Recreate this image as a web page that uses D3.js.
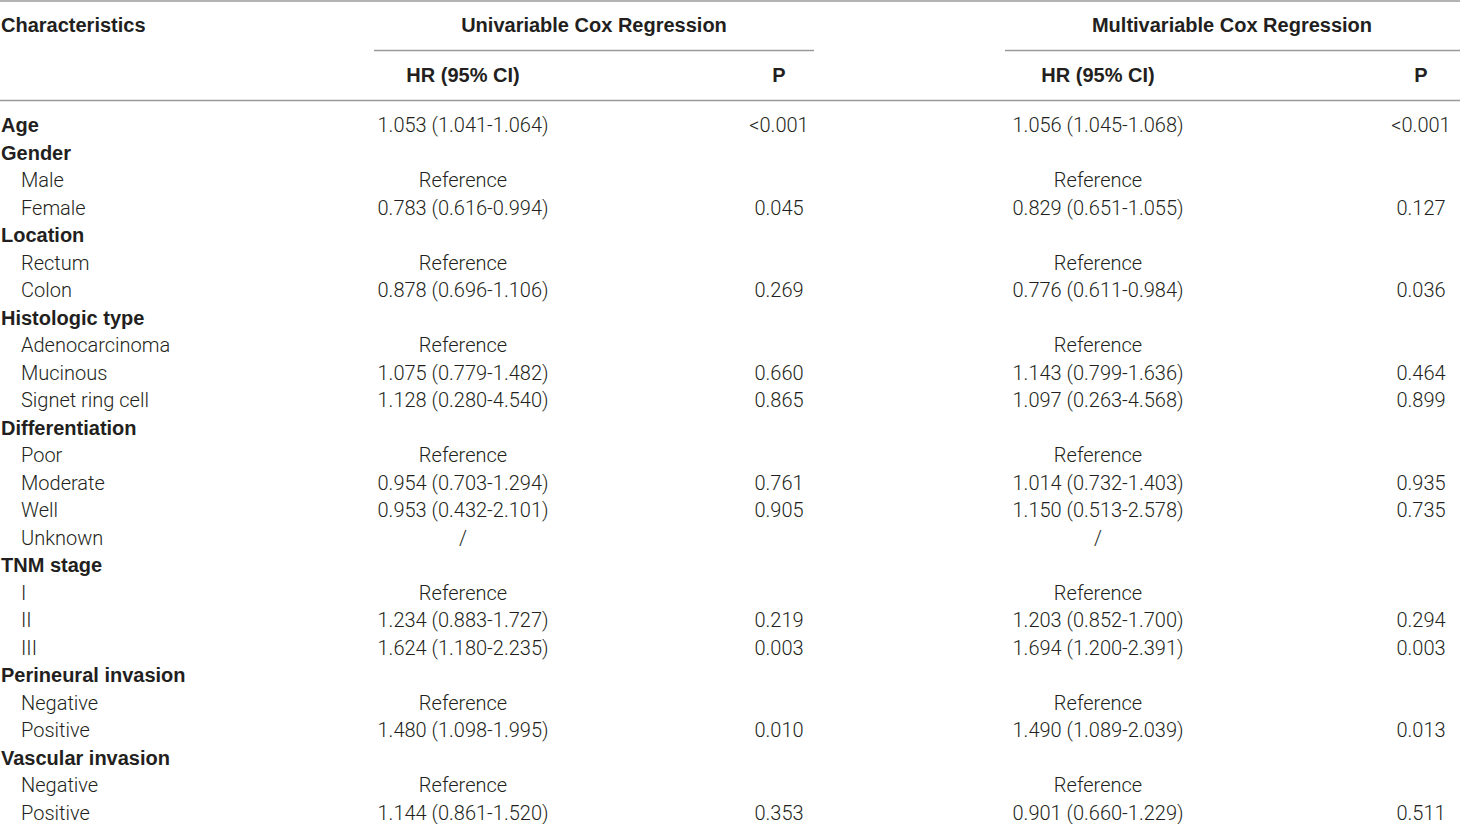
<!DOCTYPE html>
<html>
<head>
<meta charset="utf-8">
<script src="https://cdn.jsdelivr.net/npm/d3@7"></script>
<style>
  html, body { margin: 0; padding: 0; background: #fff; }
  svg { display: block; }
  .cell { font-family: Roboto, "Liberation Sans", sans-serif; font-weight: 300; font-size: 20px; fill: #231f20; }
  .bold { font-family: "Liberation Sans", Arial, sans-serif; font-weight: 700; font-size: 20px; }
  .rule { stroke: #9a9a9a; stroke-width: 1.3; }
</style>
</head>
<body>
<svg id="chart"></svg>
<script>
// Row labels; level 0 = group heading (bold), level 1 = indented item
const labels = [
  "Age", "Gender", "Male", "Female", "Location", "Rectum", "Colon",
  "Histologic type", "Adenocarcinoma", "Mucinous", "Signet ring cell",
  "Differentiation", "Poor", "Moderate", "Well", "Unknown",
  "TNM stage", "I", "II", "III",
  "Perineural invasion", "Negative", "Positive",
  "Vascular invasion", "Negative", "Positive"
];
const levels = [
  0, 0, 1, 1, 0, 1, 1,
  0, 1, 1, 1,
  0, 1, 1, 1, 1,
  0, 1, 1, 1,
  0, 1, 1,
  0, 1, 1
];
const uniHR = [
  "1.053 (1.041-1.064)", "", "Reference", "0.783 (0.616-0.994)", "", "Reference", "0.878 (0.696-1.106)",
  "", "Reference", "1.075 (0.779-1.482)", "1.128 (0.280-4.540)",
  "", "Reference", "0.954 (0.703-1.294)", "0.953 (0.432-2.101)", "/",
  "", "Reference", "1.234 (0.883-1.727)", "1.624 (1.180-2.235)",
  "", "Reference", "1.480 (1.098-1.995)",
  "", "Reference", "1.144 (0.861-1.520)"
];
const uniP = [
  "<0.001", "", "", "0.045", "", "", "0.269",
  "", "", "0.660", "0.865",
  "", "", "0.761", "0.905", "",
  "", "", "0.219", "0.003",
  "", "", "0.010",
  "", "", "0.353"
];
const multiHR = [
  "1.056 (1.045-1.068)", "", "Reference", "0.829 (0.651-1.055)", "", "Reference", "0.776 (0.611-0.984)",
  "", "Reference", "1.143 (0.799-1.636)", "1.097 (0.263-4.568)",
  "", "Reference", "1.014 (0.732-1.403)", "1.150 (0.513-2.578)", "/",
  "", "Reference", "1.203 (0.852-1.700)", "1.694 (1.200-2.391)",
  "", "Reference", "1.490 (1.089-2.039)",
  "", "Reference", "0.901 (0.660-1.229)"
];
const multiP = [
  "<0.001", "", "", "0.127", "", "", "0.036",
  "", "", "0.464", "0.899",
  "", "", "0.935", "0.735", "",
  "", "", "0.294", "0.003",
  "", "", "0.013",
  "", "", "0.511"
];
const groupHeaders = ["Univariable Cox Regression", "Multivariable Cox Regression"];
const subHeaders = ["HR (95% CI)", "P", "HR (95% CI)", "P"];

const width = 1460, height = 824;
const svg = d3.select("#chart").attr("width", width).attr("height", height);

// Column centres
const colX = { uniHR: 463, uniP: 779, multiHR: 1098, multiP: 1421 };
const groupSpan = [[374, 814], [1005, 1460]];

// Row positions
const y = d3.scalePoint()
  .domain(d3.range(labels.length))
  .range([125, 813]);

// Header rules
svg.append("line").attr("class", "rule").attr("x1", 0).attr("x2", width).attr("y1", 1).attr("y2", 1);
svg.append("line").attr("class", "rule").attr("x1", 0).attr("x2", width).attr("y1", 100.5).attr("y2", 100.5);
groupSpan.forEach(s => {
  svg.append("line").attr("class", "rule")
    .attr("x1", s[0]).attr("x2", s[1]).attr("y1", 50.5).attr("y2", 50.5);
});

// Header texts
svg.append("text").attr("class", "cell bold")
  .attr("x", 1).attr("y", 25).attr("dy", "0.35em")
  .text("Characteristics");

svg.selectAll(".ghead")
  .data(groupHeaders)
  .enter()
  .append("text")
  .attr("class", "cell bold ghead")
  .attr("text-anchor", "middle")
  .attr("x", (d, i) => [594, 1232][i])
  .attr("y", 25).attr("dy", "0.35em")
  .text(d => d);

const subX = [colX.uniHR, colX.uniP, colX.multiHR, colX.multiP];
svg.selectAll(".shead")
  .data(subHeaders)
  .enter()
  .append("text")
  .attr("class", "cell bold shead")
  .attr("text-anchor", "middle")
  .attr("x", (d, i) => subX[i])
  .attr("y", 75).attr("dy", "0.35em")
  .text(d => d);

// Body rows
const rows = svg.selectAll(".row")
  .data(labels.map((l, i) => ({ l, lvl: levels[i], a: uniHR[i], b: uniP[i], c: multiHR[i], d: multiP[i], i })))
  .enter()
  .append("g")
  .attr("class", "row")
  .attr("transform", d => `translate(0,${y(d.i)})`);

rows.append("text")
  .attr("class", d => d.lvl === 0 ? "cell bold" : "cell")
  .attr("x", d => d.lvl === 0 ? 1 : 21)
  .attr("dy", "0.35em")
  .text(d => d.l);

[["a", colX.uniHR], ["b", colX.uniP], ["c", colX.multiHR], ["d", colX.multiP]].forEach(([k, x]) => {
  rows.filter(d => d[k] !== "")
    .append("text")
    .attr("class", "cell")
    .attr("text-anchor", "middle")
    .attr("x", x)
    .attr("dy", "0.35em")
    .text(d => d[k]);
});
</script>
</body>
</html>
